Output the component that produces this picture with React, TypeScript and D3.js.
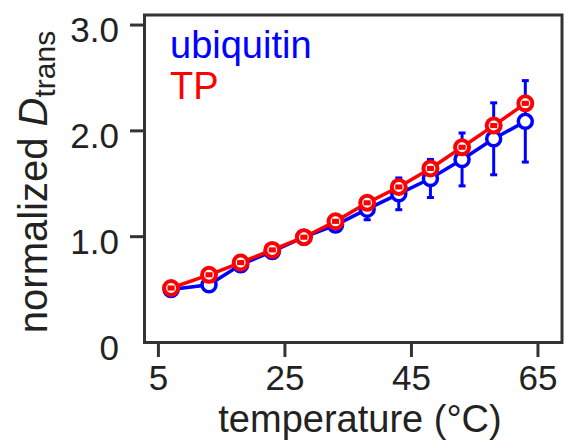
import React from "react";
import * as d3 from "d3";

const temperatures = [7, 13, 18, 23, 28, 33, 38, 43, 48, 53, 58, 63];
const ubiquitin = [0.5, 0.545, 0.735, 0.86, 0.995, 1.11, 1.26, 1.405, 1.55, 1.73, 1.925, 2.09];
const ubiquitinErr = [0.02, 0.03, 0.03, 0.03, 0.02, 0.05, 0.1, 0.15, 0.18, 0.25, 0.34, 0.385];
const tp = [0.515, 0.64, 0.755, 0.875, 0.995, 1.145, 1.32, 1.47, 1.645, 1.845, 2.05, 2.26];
const tpErr = [0.01, 0.01, 0.01, 0.01, 0.01, 0.01, 0.01, 0.01, 0.01, 0.01, 0.01, 0.01];
const xTicks = [5, 25, 45, 65];
const yTicks = [0, 1, 2, 3];
const yTickLabels = ["0", "1.0", "2.0", "3.0"];

const W = 566;
const H = 445;
const FONT = "'Liberation Sans', Arial, Helvetica, sans-serif";
const AXIS = "#333333";

export default function App() {
  const x = d3.scaleLinear().domain([2.8, 68.8]).range([144.5, 562]);
  const y = d3.scaleLinear().domain([0, 3.095]).range([342.5, 15]);
  const line = d3
    .line<number>()
    .x((_, i) => x(temperatures[i]))
    .y((d) => y(d));

  const ErrBar = ({ cx, v, e, color }: { cx: number; v: number; e: number; color: string }) => {
    const y1 = y(v + e);
    const y2 = y(v - e);
    return (
      <g>
        <line x1={cx} x2={cx} y1={y1} y2={y2} stroke={color} strokeWidth={3} />
        <line x1={cx - 3.5} x2={cx + 3.5} y1={y1} y2={y1} stroke={color} strokeWidth={3} />
        <line x1={cx - 3.5} x2={cx + 3.5} y1={y2} y2={y2} stroke={color} strokeWidth={3} />
      </g>
    );
  };

  return (
    <svg
      width={W}
      height={H}
      style={{ position: "absolute", left: 0, top: 0, background: "#fff" }}
      fontFamily={FONT}
    >
      <rect x={0} y={0} width={W} height={H} fill="#fff" />

      {/* ubiquitin series */}
      <path d={line(ubiquitin) || ""} fill="none" stroke="#0000ff" strokeWidth={3.5} />
      {ubiquitin.map((v, i) => (
        <ErrBar key={"ue" + i} cx={x(temperatures[i])} v={v} e={ubiquitinErr[i]} color="#0000ff" />
      ))}
      {ubiquitin.map((v, i) => (
        <circle key={"uc" + i} cx={x(temperatures[i])} cy={y(v)} r={7} fill="#fff" stroke="#0000ff" strokeWidth={3.5} />
      ))}

      {/* TP series */}
      <path d={line(tp) || ""} fill="none" stroke="#ff0000" strokeWidth={3.5} />
      {tp.map((v, i) => (
        <circle key={"tc" + i} cx={x(temperatures[i])} cy={y(v)} r={7} fill="#fff" stroke="#ff0000" strokeWidth={4} />
      ))}
      {tp.map((v, i) => (
        <ErrBar key={"te" + i} cx={x(temperatures[i])} v={v} e={tpErr[i]} color="#ff0000" />
      ))}

      {/* frame */}
      <rect x={144.5} y={15} width={562 - 144.5} height={342.5 - 15} fill="none" stroke={AXIS} strokeWidth={3} />

      {/* x ticks */}
      {xTicks.map((t) => (
        <g key={"xt" + t}>
          <line x1={x(t)} x2={x(t)} y1={342.5} y2={357} stroke={AXIS} strokeWidth={3} />
          <text x={x(t)} y={390} textAnchor="middle" fontSize={35} fill="#222">
            {t}
          </text>
        </g>
      ))}
      {/* y ticks */}
      {yTicks.map((t, i) => (
        <g key={"yt" + t}>
          {t !== 0 && <line x1={130} x2={144.5} y1={y(t)} y2={y(t)} stroke={AXIS} strokeWidth={3} />}
          <text x={119} y={y(t) + 17} textAnchor="end" fontSize={35} fill="#222">
            {yTickLabels[i]}
          </text>
        </g>
      ))}

      {/* axis labels */}
      <text x={360} y={432} textAnchor="middle" fontSize={38} fill="#222">
        temperature (°C)
      </text>
      <text transform="translate(47,182) rotate(-90)" textAnchor="middle" fontSize={40} fill="#222">
        normalized <tspan fontStyle="italic">D</tspan>
        <tspan fontSize={30} dy={8}>trans</tspan>
      </text>

      {/* legend */}
      <text x={170} y={58} fontSize={38} fill="#0000ff">ubiquitin</text>
      <text x={170} y={99} fontSize={38} fill="#ff0000">TP</text>
    </svg>
  );
}
